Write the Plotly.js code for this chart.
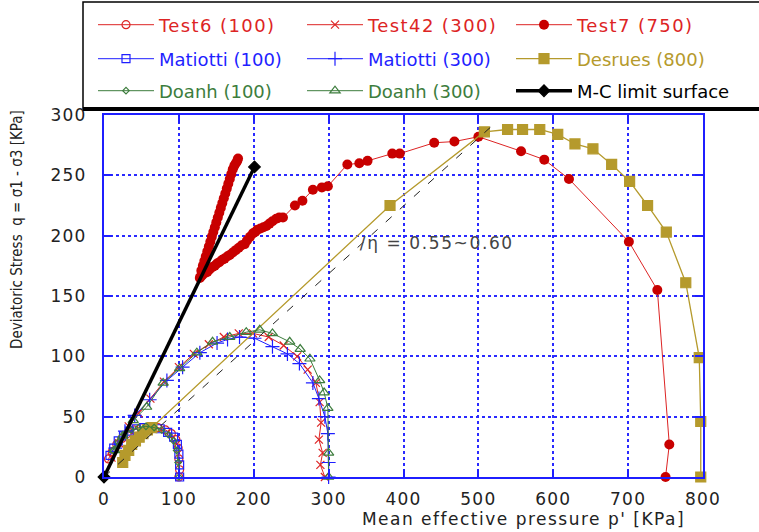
<!DOCTYPE html>
<html>
<head>
<meta charset="utf-8">
<script src="https://cdn.plot.ly/plotly-3.0.1.min.js"></script>
<style>
html,body{margin:0;padding:0;background:#fff;}
#chart{width:759px;height:532px;}
.legendtext{letter-spacing:1.4px;}
.xtick text,.ytick text{letter-spacing:1.2px;}
g.annotation[data-index="0"] .annotation-text{letter-spacing:1.6px;}
g.annotation[data-index="1"] .annotation-text{letter-spacing:1.5px;}
</style>
</head>
<body>
<div id="chart"></div>
<script>
// ---- data (p' = mean effective pressure, q = deviatoric stress, kPa) ----
const test6P = [100, 101, 100, 99, 96, 90, 82, 72, 61, 50, 40, 31, 24, 17, 11, 6];
const test6Q = [0, 6, 15, 24, 31, 36, 39, 41, 41, 41, 39, 36, 32, 27, 21, 15];

const test42P = [295, 289, 292, 287, 290, 288, 283, 272, 258, 240, 220, 199, 180, 160, 140, 120, 100, 80, 62, 46, 33, 20, 10];
const test42Q = [0, 10, 20, 31, 45, 62, 78, 89, 100, 109, 116, 119, 119, 116, 110, 102, 91, 79, 65, 53, 42, 28, 16];

const test7P = [750, 755, 739, 701, 621, 588, 557, 500, 468, 441, 395, 385, 352, 341, 325, 299, 291, 279, 265, 255, 239, 234, 230, 225, 221, 217, 213, 209, 205, 202, 199, 195, 191, 188, 184, 180, 176, 172, 168, 165, 161, 158, 154, 151, 148, 145, 141, 138, 135, 131, 129, 128, 130, 132, 134, 136, 138, 140, 142, 144, 146, 148, 150, 152, 154, 156, 158, 160, 162, 164, 166, 168, 170, 172, 174, 176, 178, 179];
const test7Q = [0, 27, 155, 195, 247, 263, 270, 282, 278, 277, 268, 268, 262, 260, 259, 241, 240, 238, 229, 225, 215, 215, 214, 212, 210, 208, 207, 206, 205, 203, 202, 199, 196, 193, 192, 190, 188, 186, 184, 183, 181, 180, 178, 177, 175, 174, 172, 170, 169, 167, 166, 165, 171, 175, 179, 183, 187, 191, 195, 199, 203, 207, 211, 215, 219, 223, 227, 231, 235, 239, 243, 247, 251, 255, 258, 260, 262, 264];

const mat100P = [101, 101, 100, 98, 93, 85, 75, 64, 53, 43, 34, 26, 19, 13, 8];
const mat100Q = [0, 10, 19, 27, 33, 37, 40, 41, 41, 40, 38, 34, 30, 24, 18];

const mat300P = [300, 300, 299, 295, 287, 279, 261, 245, 225, 201, 181, 165, 151, 128, 105, 84, 61, 41, 28, 15];
const mat300Q = [0, 12, 36, 50, 65, 78, 94, 102, 108, 115, 116, 114, 111, 103, 91, 80, 64, 51, 38, 24];

const desruesP = [797, 797, 795, 777, 751, 726, 702, 678, 653, 629, 606, 582, 559, 539, 508, 382, 64, 58, 52, 47, 42, 37, 33, 28, 25];
const desruesQ = [0, 46, 99, 161, 203, 225, 245, 259, 272, 276, 284, 288, 288, 288, 286, 225, 41, 39, 36, 33, 30, 27, 22, 18, 12];

const doanh100P = [100, 99, 97, 93, 86, 77, 67, 56, 46, 36, 27, 19, 12];
const doanh100Q = [0, 12, 22, 30, 35, 39, 41, 42, 41, 39, 35, 29, 22];

const doanh300P = [300, 300, 299, 294, 288, 275, 262, 248, 225, 208, 190, 168, 145, 124, 101, 79, 57, 39, 25, 14];
const doanh300Q = [0, 20, 57, 70, 80, 98, 106, 112, 119, 122, 120, 116, 112, 103, 90, 78, 58, 47, 34, 22];

const mcP = [0, 201];
const mcQ = [0, 257];

const etaP = [0, 520];
const etaQ = [0, 292];

const xTicks = [0, 100, 200, 300, 400, 500, 600, 700, 800];
const yTicks = [0, 50, 100, 150, 200, 250, 300];

const etaLabel = "/η = 0.55~0.60";

// ---- styles ----
const RED = '#dd2424', DRED = '#c80000', BLUE = '#1f1fff', GOLD = '#b59a2c', GREEN = '#3d7d3d';
const nm = (t, c) => '<span style="color:' + c + '">' + t + '</span>';

function tr(x, y, name, color, symbol, size, lw, legend, extra) {
  return Object.assign({
    x: x, y: y, type: 'scatter', mode: 'lines+markers', name: name, legend: legend,
    cliponaxis: false,
    line: {color: color, width: lw},
    marker: {symbol: symbol, size: size, color: color, line: {color: color, width: 1.2}}
  }, extra || {});
}

const traces = [
  tr(test6P, test6Q, nm('Test6 (100)', RED), RED, 'circle-open', 8, 1, 'legend'),
  tr(test42P, test42Q, nm('Test42 (300)', RED), RED, 'x-thin-open', 8, 1, 'legend'),
  tr(test7P, test7Q, nm('Test7 (750)', RED), RED, 'circle', 10, 1, 'legend',
     {marker: {symbol: 'circle', size: 10, color: DRED}, legendwidth: 172}),
  tr(mat100P, mat100Q, nm('Matiotti (100)', BLUE), BLUE, 'square-open', 8, 1, 'legend2'),
  tr(mat300P, mat300Q, nm('Matiotti (300)', BLUE), BLUE, 'cross-thin-open', 10, 1, 'legend2'),
  tr(desruesP, desruesQ, nm('Desrues (800)', GOLD), GOLD, 'square', 10, 1.3, 'legend2', {legendwidth: 172}),
  tr(doanh100P, doanh100Q, nm('Doanh (100)', GREEN), GREEN, 'diamond-open', 5, 1, 'legend3'),
  tr(doanh300P, doanh300Q, nm('Doanh (300)', GREEN), GREEN, 'triangle-up-open', 9, 1, 'legend3'),
  {x: etaP, y: etaQ, type: 'scatter', mode: 'lines', showlegend: false, hoverinfo: 'skip',
   line: {color: '#222', width: 1, dash: '8px,11px'}},
  tr(mcP, mcQ, nm('M-C limit surface', '#000'), '#000', 'diamond', 9, 3.5, 'legend3', {legendwidth: 172})
];

// plot area in pixels: x 104..703, y 115..477
const PL = 104, PR = 703, PT = 115, PB = 477;
const px2x = v => (v - PL) / (PR - PL);
const px2y = v => (PB - v) / (PB - PT);

const legBase = {
  orientation: 'h', xref: 'paper', yref: 'paper', xanchor: 'left', yanchor: 'middle',
  x: px2x(93), bgcolor: 'rgba(0,0,0,0)', borderwidth: 0,
  itemwidth: 56, entrywidth: 138, entrywidthmode: 'pixels', itemclick: false,
  font: {family: 'DejaVu Sans, Verdana, sans-serif', size: 18, color: '#000'}
};

const axBase = {
  showline: true, linecolor: '#1f1fff', linewidth: 2, mirror: 'ticks',
  ticks: 'inside', ticklen: 8, tickwidth: 2, tickcolor: '#1f1fff',
  showgrid: true, gridcolor: '#2a2aff', gridwidth: 2, griddash: 'dot',
  zeroline: false, fixedrange: true,
  tickfont: {family: 'DejaVu Sans, Verdana, sans-serif', size: 17, color: '#222'}
};

const layout = {
  width: 759, height: 532,
  margin: {l: PL, r: 759 - PR, t: PT, b: 532 - PB, autoexpand: false},
  paper_bgcolor: '#fff', plot_bgcolor: '#fff',
  xaxis: Object.assign({}, axBase, {range: [0, 800], tickvals: xTicks, ticktext: xTicks.map(String), ticklabelstandoff: 6}),
  yaxis: Object.assign({}, axBase, {range: [0, 300], tickvals: yTicks, ticktext: yTicks.map(String), ticklabelstandoff: 12}),
  legend: Object.assign({}, legBase, {y: px2y(25)}),
  legend2: Object.assign({}, legBase, {y: px2y(59)}),
  legend3: Object.assign({}, legBase, {y: px2y(91)}),
  shapes: [
    {type: 'rect', xref: 'paper', yref: 'paper', x0: px2x(83), x1: px2x(765), y0: px2y(109), y1: px2y(2),
     line: {color: '#000', width: 1.5}, fillcolor: 'rgba(0,0,0,0)', layer: 'below'},
    {type: 'line', xref: 'paper', yref: 'paper', x0: px2x(83), x1: px2x(765), y0: px2y(109), y1: px2y(109),
     line: {color: '#000', width: 4}, layer: 'above'}
  ],
  annotations: [
    {text: etaLabel, xref: 'x', yref: 'y', x: 354, y: 194, xanchor: 'left', yanchor: 'middle', showarrow: false,
     font: {family: 'DejaVu Sans, Verdana, sans-serif', size: 17, color: '#444'}},
    {text: "Mean effective pressure p' [KPa]", xref: 'paper', yref: 'paper', x: px2x(523), y: px2y(519),
     xanchor: 'center', yanchor: 'middle', showarrow: false,
     font: {family: 'DejaVu Sans, Verdana, sans-serif', size: 17, color: '#222'}},
    {text: 'Deviatoric Stress  q = σ1 - σ3 [KPa]', xref: 'paper', yref: 'paper', x: px2x(17), y: px2y(230),
     xanchor: 'center', yanchor: 'middle', textangle: -90, showarrow: false,
     font: {family: 'Liberation Sans Narrow, DejaVu Sans Condensed, Liberation Sans, sans-serif', size: 15, color: '#222'}}
  ],
  showlegend: true,
  hovermode: false
};

Plotly.newPlot('chart', traces, layout, {displayModeBar: false, staticPlot: true});
</script>
</body>
</html>
